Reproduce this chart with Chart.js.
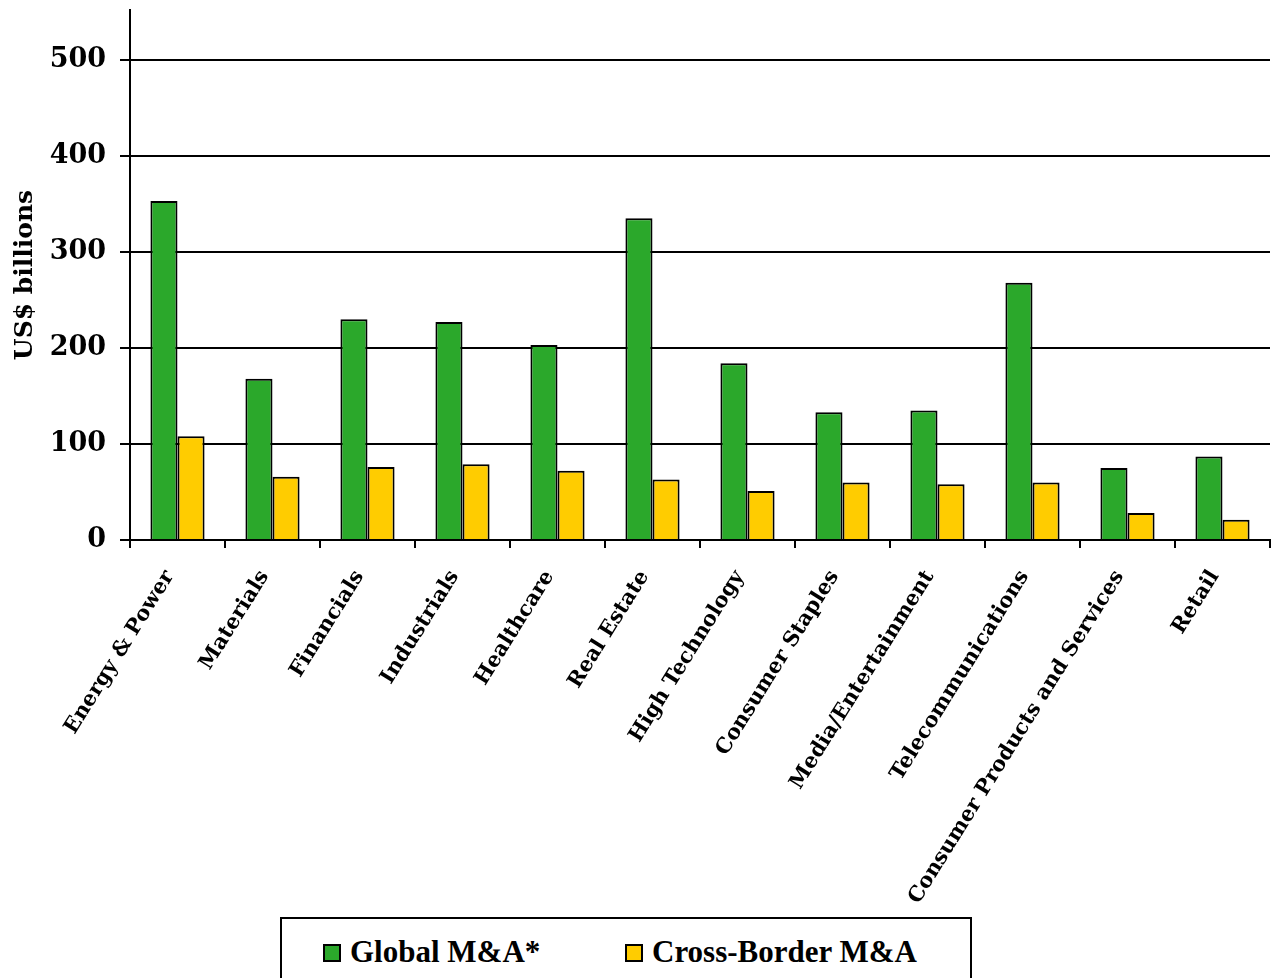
<!DOCTYPE html>
<html>
<head>
<meta charset="utf-8">
<script src="https://cdn.jsdelivr.net/npm/chart.js@4"></script>
<style>
  html, body { margin: 0; padding: 0; background: #fff; }
  #wrap { position: relative; width: 1279px; height: 978px; overflow: hidden; }
  #legend {
    position: absolute; left: 280px; top: 917px; width: 692px; height: 80px;
    border: 2px solid #000; box-sizing: border-box; background: #fff;
    font-family: 'Liberation Serif', serif; font-weight: bold; font-size: 31px; color: #000;
  }
  #legend .item { position: absolute; top: 14px; height: 38px; line-height: 38px; white-space: nowrap; }
  #legend .swatch {
    display: inline-block; width: 18px; height: 18px; box-sizing: border-box;
    border: 2px solid #000; vertical-align: middle; margin-right: 9px; position: relative; top: -2px;
  }
</style>
</head>
<body>
<div id="wrap">
  <canvas id="chart" width="1279" height="978"></canvas>
  <div id="legend"></div>
</div>
<script>
const industries = [
    "Energy & Power", "Materials", "Financials", "Industrials", "Healthcare",
    "Real Estate", "High Technology", "Consumer Staples", "Media/Entertainment",
    "Telecommunications", "Consumer Products and Services", "Retail"
];
const globalMA = [353, 168, 230, 227, 203, 335, 184, 133, 135, 268, 75, 87];
const crossBorderMA = [108, 66, 76, 79, 72, 63, 51, 60, 58, 60, 28, 21];
const yTicks = [0, 100, 200, 300, 400, 500];

const serif = "'DejaVu Serif', serif";

const chart = new Chart(document.getElementById('chart').getContext('2d'), {
    type: 'bar',
    data: {
        labels: industries,
        datasets: [{
            label: 'Global M&A*',
            data: globalMA,
            backgroundColor: '#2BA82B',
            borderColor: '#000',
            borderWidth: 2
        }, {
            label: 'Cross-Border M&A',
            data: crossBorderMA,
            backgroundColor: '#FFCC00',
            borderColor: '#000',
            borderWidth: 2
        }]
    },
    options: {
        responsive: false,
        animation: false,
        layout: { padding: { top: 10, right: 9, bottom: 60, left: 0 } },
        datasets: {
            bar: { categoryPercentage: 0.57, barPercentage: 1.0 }
        },
        plugins: {
            tooltip: { enabled: false },
            legend: { display: false }
        },
        scales: {
            x: {
                offset: true,
                grid: {
                    offset: true,
                    drawOnChartArea: false,
                    color: '#000',
                    lineWidth: 2,
                    tickLength: 8
                },
                border: { color: '#000', width: 2 },
                ticks: {
                    color: '#000',
                    autoSkip: false,
                    minRotation: 58,
                    maxRotation: 58,
                    padding: 18,
                    labelOffset: -8,
                    font: { family: serif, size: 21, weight: 'bold' }
                },
                afterFit(scale) { scale.height = 378; }
            },
            y: {
                min: 0,
                max: 552,
                // only the round hundreds get a label and a gridline
                afterBuildTicks(scale) {
                    scale.ticks = yTicks.map(v => ({ value: v }));
                },
                grid: {
                    color: '#000',
                    lineWidth: 2,
                    tickLength: 10
                },
                border: { color: '#000', width: 2 },
                ticks: {
                    color: '#000',
                    padding: 14,
                    font: { family: serif, size: 27, weight: 'bold' }
                },
                title: {
                    display: true,
                    text: 'US$ billions',
                    color: '#000',
                    padding: { top: 10, bottom: 0 },
                    font: { family: serif, size: 25, weight: 'bold' }
                },
                afterFit(scale) {
                    scale.width = 130;
                    scale.paddingTop = 0;
                    scale.paddingBottom = 0;
                }
            }
        }
    }
});

// legend row built from the datasets
const legendLeft = [41, 343];
chart.data.datasets.forEach((ds, i) => {
    const item = document.createElement('div');
    item.className = 'item';
    item.style.left = legendLeft[i] + 'px';
    const swatch = document.createElement('span');
    swatch.className = 'swatch';
    swatch.style.background = ds.backgroundColor;
    item.appendChild(swatch);
    item.appendChild(document.createTextNode(ds.label));
    document.getElementById('legend').appendChild(item);
});
</script>
</body>
</html>
